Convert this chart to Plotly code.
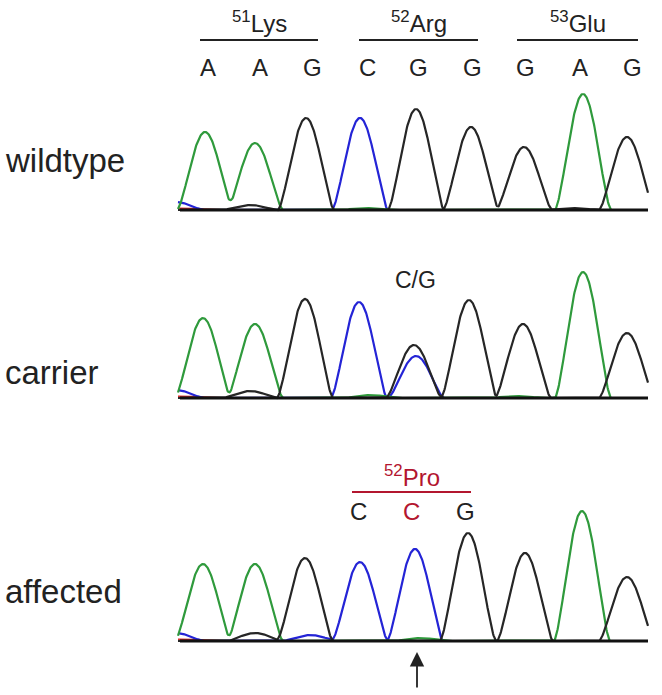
import numpy as np
import plotly.graph_objects as go

W, H = 662, 695
FONT = "Liberation Sans, Arial, Helvetica, sans-serif"
TXT = "#222222"
RED = "#b3162f"
BASE_COLORS = {"A": "#2f9a3c", "C": "#2424d6", "G": "#262626", "T": "#d42a2a"}

# ---------------- data ----------------
samples = ["wildtype", "carrier", "affected"]

# base-call positions (scan units) and called bases of the reference read
call_pos = [208, 260, 312, 367, 418, 472, 525, 580, 632]
call_bases = ["A", "A", "G", "C", "G", "G", "G", "A", "G"]
codon_labels = ["<sup>51</sup>Lys", "<sup>52</sup>Arg", "<sup>53</sup>Glu"]

# wildtype peaks
wt_pos = [205, 255, 306, 360, 416, 471, 524, 583, 627, 176, 183, 250, 367, 573]
wt_base = ["A", "A", "G", "C", "G", "G", "G", "A", "G", "C", "T", "G", "A", "G"]
wt_height = [78, 67, 92, 92, 101, 83, 63, 116, 73, 8, 1.5, 5, 2, 2]

# carrier peaks (double peak C/G at codon 52)
ca_pos = [203, 255, 305, 359, 414, 416, 469, 523, 583, 627, 176, 183, 250, 370, 517]
ca_base = ["A", "A", "G", "C", "G", "C", "G", "G", "A", "G", "C", "T", "G", "A", "A"]
ca_height = [80, 74, 99, 96, 53, 42, 98, 74, 126, 65, 8, 1.5, 7, 3, 2]

# affected peaks (homozygous C at codon 52)
af_pos = [203, 255, 305, 360, 415, 468, 525, 582, 627, 176, 185, 255, 310, 420]
af_base = ["A", "A", "G", "C", "C", "G", "G", "A", "G", "C", "T", "G", "C", "A"]
af_height = [77, 77, 83, 79, 92, 108, 88, 130, 64, 8, 1.5, 8, 6, 3]

mutant_codon = ["C", "C", "G"]
mutant_label = "<sup>52</sup>Pro"
het_label = "C/G"

panels = [(wt_pos, wt_base, wt_height), (ca_pos, ca_base, ca_height), (af_pos, af_base, af_height)]

# ---------------- layout helpers ----------------
baselines_px = [210, 398, 641]
label_y_px = [160, 372, 591]
PEAK_HALF = 28.0
scan = np.arange(178, 648.5, 0.5)


def py(p):
    return 1 - p / H


def channel(pos, base, height, b):
    y = np.zeros_like(scan)
    for p, bb, h in zip(pos, base, height):
        if bb != b:
            continue
        d = np.abs(scan - p)
        k = np.where(d < PEAK_HALF, np.cos(np.pi * np.minimum(d, PEAK_HALF) / (2 * PEAK_HALF)), 0.0)
        y += h * np.power(np.clip(k, 0, 1), 1.5)
    return y


fig = go.Figure()
layout_axes = {}
for i, (pos, base, height) in enumerate(panels):
    b = baselines_px[i]
    yname = "y" if i == 0 else f"y{i+1}"
    for ch in ["T", "C", "A", "G"]:
        fig.add_trace(go.Scatter(x=scan, y=channel(pos, base, height, ch), mode="lines",
                                 line=dict(color=BASE_COLORS[ch], width=2.2),
                                 xaxis="x", yaxis=yname, hoverinfo="skip", showlegend=False))
    fig.add_trace(go.Scatter(x=[scan[0] + 2, scan[-1]], y=[0, 0], mode="lines",
                             line=dict(color="#111111", width=3),
                             xaxis="x", yaxis=yname, hoverinfo="skip", showlegend=False))
    key = "yaxis" if i == 0 else f"yaxis{i+1}"
    layout_axes[key] = dict(domain=[py(b + 5), py(b - 135)], range=[-5, 135], visible=False,
                            fixedrange=True)

annotations = []
shapes = []

# sample labels
for s, yp in zip(samples, label_y_px):
    annotations.append(dict(text=s, x=3 / W, y=py(yp), xref="paper", yref="paper",
                            xanchor="left", yanchor="middle", showarrow=False,
                            font=dict(family=FONT, size=33, color=TXT)))

# reference sequence row
for x, bch in zip(call_pos, call_bases):
    annotations.append(dict(text=bch, x=x, y=py(67), xref="x", yref="paper",
                            xanchor="center", yanchor="middle", showarrow=False,
                            font=dict(family=FONT, size=24, color=TXT)))

# codon labels and bars
for j, lab in enumerate(codon_labels):
    x0 = call_pos[3 * j] - 8
    x1 = call_pos[3 * j + 2] + 6
    shapes.append(dict(type="line", xref="x", yref="paper", x0=x0, x1=x1, y0=py(40), y1=py(40),
                       line=dict(color=TXT, width=2)))
    annotations.append(dict(text=lab, x=(x0 + x1) / 2, y=py(22), xref="x", yref="paper",
                            xanchor="center", yanchor="middle", showarrow=False,
                            font=dict(family=FONT, size=24, color=TXT)))

# heterozygous call
annotations.append(dict(text=het_label, x=ca_pos[4] + 1, y=py(280), xref="x", yref="paper",
                        xanchor="center", yanchor="middle", showarrow=False,
                        font=dict(family=FONT, size=23, color=TXT)))

# mutant codon
mut_x = [af_pos[3] - 2, af_pos[4] - 4, af_pos[5] - 3]
for k, (x, bch) in enumerate(zip(mut_x, mutant_codon)):
    annotations.append(dict(text=bch, x=x, y=py(511), xref="x", yref="paper",
                            xanchor="center", yanchor="middle", showarrow=False,
                            font=dict(family=FONT, size=24, color=RED if k == 1 else TXT)))
shapes.append(dict(type="line", xref="x", yref="paper", x0=mut_x[0] - 6, x1=mut_x[2] + 6,
                   y0=py(492), y1=py(492), line=dict(color=RED, width=2)))
annotations.append(dict(text=mutant_label, x=(mut_x[0] + mut_x[2]) / 2, y=py(476), xref="x",
                        yref="paper", xanchor="center", yanchor="middle", showarrow=False,
                        font=dict(family=FONT, size=24, color=RED)))

# arrow below the mutated base
annotations.append(dict(text="", x=af_pos[4] + 2, y=py(652), xref="x", yref="paper",
                        ax=0, ay=37, axref="pixel", ayref="pixel", showarrow=True,
                        arrowhead=2, arrowsize=1.6, arrowwidth=1.8, arrowcolor=TXT, standoff=0))

fig.update_layout(
    width=W, height=H, margin=dict(l=0, r=0, t=0, b=0),
    paper_bgcolor="white", plot_bgcolor="white", showlegend=False,
    xaxis=dict(domain=[0, 1], range=[0, W], visible=False, fixedrange=True),
    annotations=annotations, shapes=shapes,
    **layout_axes,
)

fig.write_html("out.html", config={"displayModeBar": False},
               post_script="document.body.style.margin='0px';")
